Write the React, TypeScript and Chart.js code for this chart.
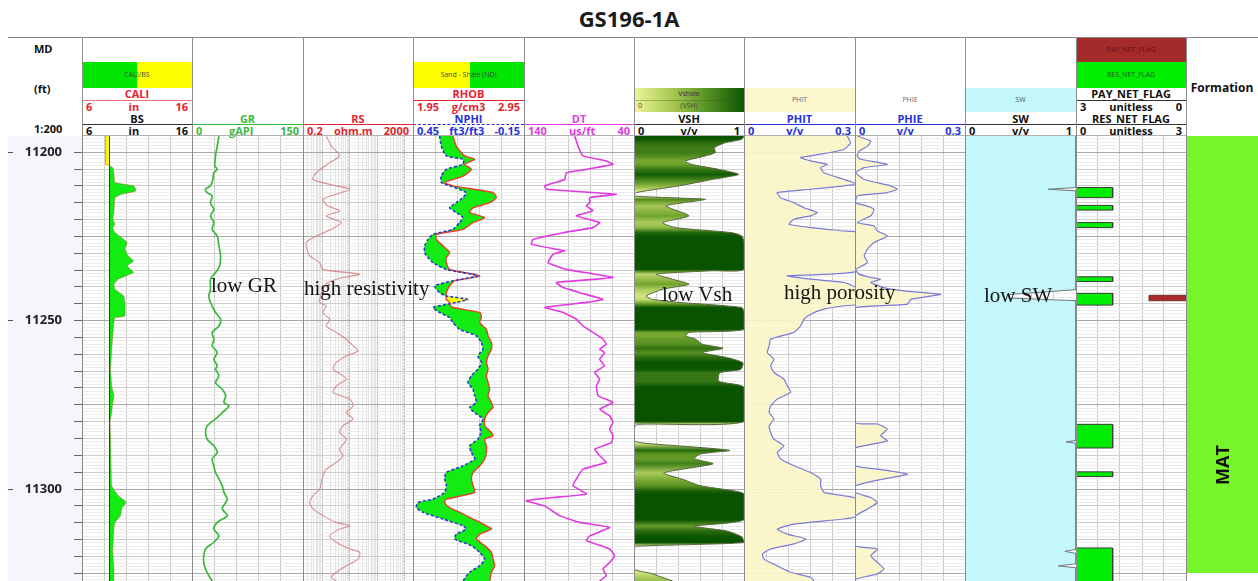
import React, { useEffect, useRef } from 'react';
import { Chart, registerables } from 'chart.js';

Chart.register(...registerables);

const FONT = "'Open Sans', 'DejaVu Sans', sans-serif";
Chart.defaults.font.family = FONT;

// ---------------- depth frame ----------------
const DEPTH_MIN = 11195.2;
const DEPTH_MAX = 11327.3;
const DEPTH_LABELS = [11200, 11250, 11300];

// ---------------- CALI / BS (in) ----------------
const caliDepth = [11195.2, 11203.6, 11204.1, 11204.6, 11206.1, 11209.0, 11210.0, 11211.5, 11212.5, 11213.5, 11215.0, 11217.9, 11219.9, 11221.4, 11222.4, 11223.9, 11225.4, 11226.8, 11228.8, 11230.8, 11232.3, 11233.8, 11235.7, 11237.7, 11239.2, 11240.7, 11242.7, 11244.6, 11248.6, 11249.1, 11250.6, 11254.5, 11258.5, 11264.4, 11269.4, 11272.3, 11274.3, 11277.3, 11280.2, 11284.2, 11294.1, 11299.0, 11302.0, 11303.5, 11304.0, 11305.9, 11307.9, 11309.9, 11311.9, 11318.8, 11323.7, 11327.3];
const caliValue = [8.15, 8.15, 8.5, 8.8, 8.9, 9.0, 10.7, 10.9, 9.6, 9.0, 8.95, 8.9, 8.8, 9.0, 8.8, 9.0, 9.6, 10.1, 9.9, 10.2, 10.7, 10.1, 10.7, 9.3, 8.9, 9.0, 9.8, 9.9, 9.9, 9.0, 8.9, 8.8, 8.7, 8.6, 8.7, 8.9, 8.8, 8.7, 8.55, 8.6, 8.65, 8.7, 9.3, 9.9, 10.0, 9.6, 9.5, 9.0, 8.9, 8.8, 8.9, 8.9];
const bsDepth = [11190, 11330];
const bsValue = [8.5, 8.5];

// ---------------- GR (gAPI) ----------------
const grDepth = [11195.2, 11198.2, 11201.1, 11204.1, 11205.1, 11206.1, 11208.1, 11210.0, 11211.0, 11212.0, 11213.0, 11215.0, 11217.0, 11218.9, 11220.9, 11222.9, 11224.9, 11227.8, 11230.8, 11233.8, 11235.7, 11237.7, 11240.7, 11242.7, 11244.6, 11247.6, 11249.6, 11251.6, 11253.5, 11255.5, 11257.5, 11259.5, 11261.5, 11263.4, 11264.4, 11266.4, 11268.4, 11270.4, 11272.3, 11274.3, 11275.3, 11277.3, 11279.2, 11281.2, 11283.2, 11285.2, 11287.2, 11289.1, 11291.1, 11293.1, 11295.1, 11297.0, 11299.0, 11301.0, 11303.0, 11304.0, 11305.9, 11307.9, 11309.9, 11311.9, 11313.9, 11315.8, 11317.8, 11319.8, 11321.8, 11323.7, 11325.7, 11327.3];
const grValue = [36.4, 34.1, 31.8, 30.9, 34.1, 29.5, 28.2, 25.0, 18.2, 20.5, 27.3, 25.0, 29.5, 25.0, 29.5, 27.3, 34.1, 36.4, 38.6, 37.3, 31.8, 25.0, 25.0, 22.7, 25.0, 31.8, 38.6, 36.4, 27.3, 29.5, 27.3, 34.1, 29.5, 34.1, 31.8, 36.4, 31.8, 40.9, 45.5, 43.2, 50.0, 40.9, 31.8, 20.5, 18.2, 20.5, 29.5, 34.1, 27.3, 29.5, 31.8, 36.4, 40.9, 43.2, 47.7, 45.5, 40.9, 47.7, 34.1, 29.5, 36.4, 29.5, 18.2, 15.9, 15.9, 18.2, 22.7, 27.3];

// ---------------- RS (ohm.m) ----------------
const rsDepth = [11195.2, 11198.2, 11201.1, 11203.1, 11206.1, 11208.1, 11210.0, 11211.0, 11212.5, 11214.0, 11216.0, 11217.4, 11218.9, 11220.9, 11222.9, 11224.9, 11226.8, 11228.8, 11230.8, 11232.8, 11234.8, 11236.2, 11237.2, 11238.7, 11240.7, 11244.6, 11245.6, 11247.6, 11249.6, 11251.6, 11253.5, 11255.5, 11257.5, 11259.0, 11260.5, 11262.4, 11264.4, 11266.4, 11267.4, 11269.4, 11271.3, 11273.3, 11275.3, 11277.3, 11279.2, 11281.2, 11283.2, 11285.2, 11288.2, 11290.1, 11292.1, 11294.1, 11296.1, 11298.0, 11300.0, 11302.0, 11304.0, 11305.9, 11307.9, 11309.9, 11310.9, 11311.9, 11313.9, 11315.8, 11317.8, 11318.8, 11320.8, 11322.8, 11324.7, 11326.2, 11327.3];
const rsValue = [1.41, 2.14, 4.3, 1.87, 0.61, 0.46, 3.25, 10, 3.25, 1.07, 1.62, 4.3, 1.41, 4.95, 2.14, 0.61, 0.26, 0.28, 0.35, 0.81, 1.07, 23, 5.7, 1.62, 1.07, 0.81, 1.41, 1.07, 1.87, 1.41, 3.25, 7.5, 13.2, 20, 7.5, 3.25, 2.47, 5.7, 7.5, 3.25, 2.47, 10, 13.2, 7.5, 13.2, 5.7, 4.3, 7.5, 4.3, 5.7, 3.25, 1.41, 1.07, 0.93, 0.81, 0.46, 0.35, 0.46, 1.07, 3.25, 10, 4.3, 1.87, 3.25, 10, 23, 20, 7.5, 3.25, 2.14, 3.25];

// ---------------- RHOB (g/cm3) / NPHI (ft3/ft3) ----------------
const ndDepth = [11195.2, 11198.2, 11201.1, 11202.1, 11203.6, 11205.1, 11207.1, 11209.0, 11210.0, 11212.0, 11213.5, 11215.0, 11216.5, 11217.9, 11219.4, 11220.9, 11222.9, 11224.4, 11225.9, 11227.8, 11229.8, 11231.3, 11232.8, 11234.8, 11236.7, 11238.2, 11239.7, 11241.7, 11242.7, 11243.7, 11244.6, 11245.1, 11246.1, 11247.6, 11249.1, 11250.6, 11252.6, 11254.5, 11256.5, 11258.5, 11260.5, 11262.4, 11264.4, 11266.4, 11268.4, 11270.4, 11272.3, 11274.3, 11275.8, 11277.3, 11279.2, 11281.2, 11283.2, 11284.2, 11285.2, 11287.2, 11289.1, 11291.1, 11293.1, 11295.1, 11297.0, 11299.0, 11301.0, 11303.0, 11304.0, 11305.5, 11306.9, 11308.9, 11310.9, 11311.9, 11313.4, 11314.8, 11316.8, 11318.8, 11320.8, 11322.8, 11324.7, 11327.3];
const rhobValue = [2.310, 2.340, 2.415, 2.506, 2.415, 2.476, 2.400, 2.235, 2.310, 2.671, 2.701, 2.641, 2.491, 2.461, 2.596, 2.491, 2.400, 2.160, 2.160, 2.220, 2.280, 2.250, 2.250, 2.280, 2.551, 2.325, 2.280, 2.250, 2.250, 2.250, 2.280, 2.280, 2.310, 2.551, 2.566, 2.551, 2.611, 2.626, 2.656, 2.656, 2.626, 2.611, 2.626, 2.611, 2.626, 2.641, 2.626, 2.656, 2.671, 2.626, 2.596, 2.596, 2.656, 2.671, 2.596, 2.611, 2.611, 2.596, 2.551, 2.491, 2.476, 2.491, 2.506, 2.250, 2.235, 2.280, 2.370, 2.491, 2.611, 2.656, 2.551, 2.521, 2.596, 2.656, 2.671, 2.686, 2.656, 2.641];
const nphiValue = [0.306, 0.297, 0.270, 0.180, 0.180, 0.270, 0.297, 0.297, 0.252, 0.162, 0.180, 0.216, 0.252, 0.216, 0.180, 0.198, 0.234, 0.342, 0.369, 0.387, 0.387, 0.369, 0.342, 0.270, 0.099, 0.234, 0.333, 0.306, 0.270, 0.155, 0.216, 0.261, 0.342, 0.306, 0.252, 0.234, 0.198, 0.108, 0.081, 0.072, 0.099, 0.081, 0.099, 0.135, 0.153, 0.126, 0.117, 0.108, 0.144, 0.117, 0.072, 0.090, 0.081, 0.090, 0.099, 0.144, 0.135, 0.117, 0.180, 0.270, 0.279, 0.270, 0.279, 0.342, 0.423, 0.432, 0.396, 0.288, 0.180, 0.162, 0.216, 0.225, 0.135, 0.090, 0.063, 0.090, 0.144, 0.180];

// ---------------- DT (us/ft) ----------------
const dtDepth = [11195.2, 11198.2, 11201.1, 11202.6, 11203.6, 11205.1, 11206.1, 11208.1, 11210.0, 11211.0, 11212.5, 11213.5, 11215.0, 11216.0, 11217.4, 11218.9, 11220.9, 11222.4, 11223.9, 11225.9, 11227.3, 11228.8, 11229.3, 11230.3, 11232.8, 11234.8, 11237.2, 11238.7, 11240.2, 11241.7, 11243.7, 11244.6, 11246.1, 11247.6, 11249.6, 11251.6, 11253.5, 11255.5, 11257.0, 11258.5, 11259.5, 11261.5, 11263.4, 11265.4, 11267.4, 11269.4, 11272.3, 11274.3, 11276.3, 11278.3, 11280.2, 11282.2, 11284.2, 11286.2, 11288.2, 11290.1, 11292.1, 11294.1, 11297.0, 11299.0, 11301.5, 11302.5, 11303.5, 11305.0, 11307.9, 11309.9, 11311.4, 11313.9, 11315.3, 11317.8, 11319.8, 11321.8, 11323.7, 11325.7, 11327.3];
const dtValue = [93.9, 90.9, 86.4, 65.2, 59.1, 83.3, 101.5, 103.0, 121.2, 119.7, 56.1, 80.3, 80.3, 83.3, 77.3, 92.4, 71.2, 77.3, 104.5, 131.8, 133.3, 110.6, 103.0, 113.6, 118.2, 101.5, 59.1, 110.6, 104.5, 89.4, 68.2, 83.3, 121.2, 104.5, 92.4, 86.4, 77.3, 68.2, 65.2, 71.2, 66.7, 71.2, 66.7, 75.8, 71.2, 74.2, 72.7, 59.1, 71.2, 62.1, 59.1, 62.1, 59.1, 60.6, 75.8, 71.2, 65.2, 86.4, 92.4, 95.5, 83.3, 113.6, 137.9, 121.2, 107.6, 89.4, 62.1, 80.3, 83.3, 62.1, 57.6, 62.1, 68.2, 65.2, 71.2];

// ---------------- VSH (v/v) ----------------
const vshDepth = [11195.2, 11196.2, 11197.2, 11198.7, 11200.1, 11201.1, 11202.6, 11203.6, 11205.1, 11206.6, 11208.1, 11210.0, 11212.0, 11213.0, 11213.6, 11214.0, 11215.0, 11216.0, 11218.9, 11220.9, 11222.4, 11223.9, 11224.9, 11226.8, 11234.8, 11235.2, 11236.2, 11237.7, 11239.2, 11240.7, 11242.7, 11243.7, 11244.6, 11246.1, 11247.6, 11252.6, 11253.5, 11254.5, 11255.5, 11257.0, 11258.2, 11259.5, 11261.0, 11262.5, 11264.5, 11265.5, 11268.0, 11269.8, 11280.0, 11280.8, 11282.2, 11285.6, 11286.4, 11288.5, 11289.6, 11291.0, 11292.5, 11295.2, 11297.2, 11299.0, 11300.5, 11301.5, 11309.1, 11311.0, 11312.5, 11314.2, 11315.9, 11317.0, 11318.0, 11323.7, 11325.0, 11327.3];
const vshValue = [1.0, 0.98, 0.83, 0.73, 0.74, 0.65, 0.47, 0.52, 0.77, 0.95, 0.71, 0.41, 0.02, 0.0, 0.4, 0.65, 0.45, 0.29, 0.5, 0.26, 0.38, 0.89, 0.98, 1.0, 1.0, 0.71, 0.2, 0.35, 0.5, 0.26, 0.11, 0.17, 0.41, 0.98, 1.0, 1.0, 0.5, 0.47, 0.56, 0.62, 0.81, 0.62, 0.85, 0.99, 0.97, 0.78, 0.77, 1.0, 1.0, 0.03, 0.0, 0.0, 0.1, 0.87, 0.6, 0.55, 0.72, 0.27, 0.45, 0.6, 0.9, 1.0, 1.0, 0.55, 0.85, 0.98, 1.0, 0.02, 0.0, 0.0, 0.15, 0.35];

// ---------------- PHIT (v/v) ----------------
const phitDepth = [11195.2, 11197.2, 11199.2, 11200.6, 11201.6, 11202.6, 11203.6, 11204.6, 11206.1, 11208.1, 11209.5, 11210.0, 11211.0, 11212.0, 11213.5, 11215.0, 11216.5, 11217.9, 11218.9, 11219.9, 11221.4, 11222.4, 11223.4, 11223.9, 11235.2, 11236.7, 11237.7, 11238.7, 11240.7, 11245.1, 11245.6, 11246.6, 11248.1, 11249.6, 11251.6, 11253.5, 11255.5, 11257.5, 11259.5, 11261.5, 11263.4, 11265.4, 11267.4, 11269.4, 11271.3, 11273.3, 11275.3, 11277.3, 11279.2, 11281.2, 11283.2, 11285.2, 11287.2, 11289.1, 11291.1, 11293.1, 11295.1, 11297.0, 11299.0, 11301.0, 11302.0, 11303.0, 11307.9, 11308.9, 11310.4, 11311.9, 11313.4, 11314.8, 11316.3, 11317.8, 11319.3, 11320.8, 11322.8, 11324.7, 11326.2, 11327.3];
const phitValue = [0.279, 0.288, 0.27, 0.207, 0.153, 0.18, 0.225, 0.207, 0.216, 0.27, 0.305, 0.27, 0.18, 0.09, 0.099, 0.135, 0.162, 0.198, 0.18, 0.135, 0.122, 0.18, 0.27, 0.31, 0.31, 0.117, 0.18, 0.27, 0.31, 0.31, 0.27, 0.216, 0.18, 0.162, 0.153, 0.135, 0.072, 0.068, 0.063, 0.081, 0.072, 0.081, 0.108, 0.117, 0.126, 0.09, 0.072, 0.068, 0.081, 0.068, 0.072, 0.081, 0.108, 0.09, 0.099, 0.135, 0.18, 0.207, 0.207, 0.216, 0.27, 0.31, 0.31, 0.27, 0.135, 0.09, 0.117, 0.167, 0.135, 0.072, 0.05, 0.054, 0.09, 0.126, 0.18, 0.189];

// ---------------- PHIE (v/v) ----------------
const phieDepth = [11195.2, 11196.7, 11198.2, 11199.7, 11201.1, 11202.1, 11203.6, 11204.6, 11206.1, 11208.1, 11210.0, 11211.0, 11212.0, 11213.0, 11215.0, 11216.0, 11217.0, 11218.9, 11220.9, 11221.9, 11223.4, 11224.9, 11226.8, 11228.8, 11230.8, 11232.8, 11234.8, 11236.2, 11237.2, 11237.7, 11238.7, 11240.2, 11241.2, 11242.2, 11243.7, 11245.1, 11246.1, 11247.6, 11280.2, 11280.7, 11282.2, 11284.2, 11285.7, 11287.7, 11289.1, 11293.1, 11294.1, 11295.6, 11297.0, 11299.0, 11301.0, 11302.5, 11304.0, 11305.9, 11307.9, 11308.9, 11316.8, 11317.8, 11319.8, 11321.8, 11323.7, 11325.2, 11326.7, 11327.3];
const phieValue = [0.006, 0.043, 0.034, 0.011, 0.006, 0.015, 0.088, 0.025, 0.002, 0.025, 0.097, 0.115, 0.088, 0.006, 0.002, 0.034, 0.052, 0.043, 0.006, 0.052, 0.061, 0.088, 0.052, 0.034, 0.025, 0.034, 0.002, 0.011, 0.043, 0.07, 0.043, 0.079, 0.134, 0.234, 0.152, 0.143, 0.002, 0.0, 0.0, 0.061, 0.088, 0.07, 0.088, 0.002, 0.0, 0.0, 0.061, 0.143, 0.079, 0.002, 0.0, 0.043, 0.061, 0.034, 0.002, 0.0, 0.0, 0.061, 0.043, 0.061, 0.079, 0.061, 0.002, 0.0];

// ---------------- SW (v/v) ----------------
const swDepth = [11195.2, 11210.5, 11211.0, 11211.5, 11240.8, 11242.3, 11243.3, 11244.1, 11285.6, 11286.0, 11286.4, 11317.9, 11318.5, 11319.1, 11322.2, 11322.8, 11323.4, 11327.3];
const swValue = [1, 1, 0.75, 1, 1, 0.38, 0.4, 1, 1, 0.91, 1, 1, 0.9, 1, 1, 0.84, 1, 1];

// ---------------- flags (unitless) ----------------
const resTop = [11210.5, 11215.8, 11220.9, 11237.0, 11241.9, 11280.8, 11294.9, 11317.5];
const resBase = [11213.5, 11217.2, 11222.4, 11238.4, 11245.4, 11287.8, 11296.3, 11330.0];
const resFlag = [1, 1, 1, 1, 1, 1, 1, 1];
const payTop = [11242.5];
const payBase = [11244.1];
const payFlag = [1];

// ---------------- formation ----------------
const formationName = ['MAT'];
const formationTop = [11190];
const formationBase = [11340];

// ---------------- layout ----------------
const PLOT_TOP = 136;
const PLOT_BOTTOM = 581;
const PLOT_H = PLOT_BOTTOM - PLOT_TOP;
const EDGES = [82, 192, 303, 413, 524, 634, 744, 855, 965, 1076, 1186, 1258];
const tw = (i: number) => EDGES[i + 1] - EDGES[i];

const RED = '#e4232e';
const GRN = '#3cb83c';
const BLUE = '#2430d8';
const MAG = '#e03ae0';
const BLK = '#111111';

const pts = (d: number[], v: number[]) => d.map((y, i) => ({ x: v[i], y }));

function flagPoints(tops: number[], bases: number[], vals: number[]) {
  const out: { x: number; y: number }[] = [];
  tops.forEach((t, i) => {
    out.push({ x: 0, y: t }, { x: vals[i], y: t }, { x: vals[i], y: bases[i] }, { x: 0, y: bases[i] });
  });
  return out;
}

const gridTicks: number[] = [];
for (let d = Math.ceil(DEPTH_MIN); d <= Math.floor(DEPTH_MAX); d++) gridTicks.push(d);
const depthTicks5: number[] = [];
for (let d = Math.ceil(DEPTH_MIN / 5) * 5; d <= DEPTH_MAX; d += 5) depthTicks5.push(d);

const logGrid: number[] = [];
for (let e = -1; e <= 3; e++) {
  for (let m = 1; m <= 9; m++) {
    const v = +(m * Math.pow(10, e)).toPrecision(6);
    if (v > 0.2 + 1e-9 && v < 2000 - 1e-9) logGrid.push(v);
  }
}
const isDecade = (v: number) => Math.abs(Math.log10(v) - Math.round(Math.log10(v))) < 1e-6;

function yScale(showGrid = true) {
  return {
    type: 'linear',
    reverse: true,
    min: DEPTH_MIN,
    max: DEPTH_MAX,
    afterBuildTicks: (ax: any) => {
      ax.ticks = gridTicks.map((value) => ({ value }));
    },
    ticks: { display: false },
    grid: {
      display: showGrid,
      drawTicks: false,
      lineWidth: 1,
      color: (c: any) => {
        const v = c.tick ? c.tick.value : 1;
        return v % 25 === 0 ? '#a8a8a8' : v % 5 === 0 ? '#cdcdcd' : '#ececec';
      },
    },
    border: { display: false },
  };
}

function xLin(min: number, max: number, extra: any = {}) {
  return {
    type: 'linear',
    min,
    max,
    position: 'bottom',
    afterBuildTicks: (ax: any) => {
      const t = [];
      for (let i = 1; i < 5; i++) t.push({ value: min + ((max - min) * i) / 5 });
      ax.ticks = t;
    },
    ticks: { display: false },
    grid: { drawTicks: false, color: '#c6c6c6', lineWidth: 1 },
    border: { display: false },
    ...extra,
  };
}

function xHidden(min: number, max: number, reverse = false) {
  return { type: 'linear', axis: 'x', min, max, reverse, display: false, position: 'top' };
}

function baseOptions(scales: any) {
  return {
    animation: false,
    responsive: false,
    maintainAspectRatio: false,
    indexAxis: 'y',
    events: [],
    layout: { padding: 0 },
    plugins: {
      legend: { display: false },
      tooltip: { enabled: false },
      filler: { drawTime: 'beforeDatasetsDraw', propagate: false },
    },
    elements: { point: { radius: 0, hoverRadius: 0 }, line: { tension: 0, borderJoinStyle: 'round' } },
    scales,
  };
}

function lerp(a: number[], b: number[], t: number) {
  return a.map((v, i) => Math.round(v + (b[i] - v) * t));
}
function vshColor(v: number) {
  const c0 = [238, 246, 150];
  const c1 = [112, 164, 44];
  const c2 = [8, 82, 0];
  const c = v <= 0.5 ? lerp(c0, c1, v / 0.5) : lerp(c1, c2, (v - 0.5) / 0.5);
  return `rgb(${c[0]},${c[1]},${c[2]})`;
}

const noPad = (s: any) => {
  s.paddingTop = 0;
  s.paddingBottom = 0;
};

// ---------------- chart configs ----------------
const makeDepth = () => ({
  type: 'line',
  data: { datasets: [] },
  options: baseOptions({
    x: { type: 'linear', display: false, min: 0, max: 1 },
    y: {
      type: 'linear',
      position: 'left',
      reverse: true,
      min: DEPTH_MIN,
      max: DEPTH_MAX,
      weight: 0,
      afterBuildTicks: (ax: any) => {
        ax.ticks = depthTicks5.map((value) => ({ value }));
      },
      afterFit: (s: any) => {
        s.width = 69;
        noPad(s);
      },
      ticks: {
        autoSkip: false,
        padding: 12,
        color: '#222',
        font: { family: FONT, size: 13, weight: 'bold' },
        callback: (v: any) => (DEPTH_LABELS.includes(Number(v)) ? String(v) : ''),
      },
      grid: { drawOnChartArea: false, drawTicks: true, tickLength: 8, color: '#666' },
      border: { display: false },
    },
    y2: {
      type: 'linear',
      axis: 'y',
      position: 'left',
      reverse: true,
      min: DEPTH_MIN,
      max: DEPTH_MAX,
      weight: 1,
      afterBuildTicks: (ax: any) => {
        ax.ticks = DEPTH_LABELS.map((value) => ({ value }));
      },
      afterFit: (s: any) => {
        s.width = 5;
        noPad(s);
      },
      ticks: { display: false },
      grid: { drawOnChartArea: false, drawTicks: true, tickLength: 5, color: '#555' },
      border: { display: false },
    },
  }),
});

const makeCali = () => {
  const bs = bsValue[0];
  const split = caliValue.findIndex((v) => v >= bs);
  return {
    type: 'line',
    data: {
      datasets: [
        {
          data: pts(caliDepth.slice(0, split + 1), caliValue.slice(0, split + 1)),
          fill: { value: bs },
          backgroundColor: '#ffff00',
          borderColor: '#d8c800',
          borderWidth: 1,
        },
        {
          data: pts(caliDepth.slice(split), caliValue.slice(split)),
          fill: { value: bs },
          backgroundColor: '#12ec12',
          borderColor: 'rgba(170,80,40,0.7)',
          borderWidth: 0.6,
          tension: 0.1,
        },
        { data: pts(bsDepth, bsValue), fill: false, borderColor: '#3a3a3a', borderWidth: 1 },
      ],
    },
    options: baseOptions({ x: xLin(6, 16), y: yScale() }),
  };
};

const makeGR = () => ({
  type: 'line',
  data: {
    datasets: [{ data: pts(grDepth, grValue), fill: false, borderColor: GRN, borderWidth: 1.7, tension: 0.3 }],
  },
  options: baseOptions({ x: xLin(0, 150), y: yScale() }),
});

const makeRS = () => ({
  type: 'line',
  data: {
    datasets: [
      { data: pts(rsDepth, rsValue), fill: false, borderColor: 'rgba(212,125,125,0.85)', borderWidth: 1.1, tension: 0.25 },
    ],
  },
  options: baseOptions({
    x: {
      type: 'logarithmic',
      min: 0.2,
      max: 2000,
      position: 'bottom',
      afterBuildTicks: (ax: any) => {
        ax.ticks = logGrid.map((value) => ({ value }));
      },
      ticks: { display: false },
      grid: {
        drawTicks: false,
        lineWidth: 1,
        color: (c: any) => (c.tick && isDecade(c.tick.value) ? '#bcbcbc' : '#e3e3e3'),
      },
      border: { display: false },
    },
    y: yScale(),
  }),
});

const makeND = () => {
  const posR = (v: number) => (v - 1.95) / 1.0;
  const posN = (v: number) => (0.45 - v) / 0.6;
  const cross = ndDepth.map((_, i) => i).filter((i) => posN(nphiValue[i]) > posR(rhobValue[i]));
  const lo = Math.max(0, Math.min(...cross) - 1);
  const hi = Math.min(ndDepth.length - 1, Math.max(...cross) + 1);
  return {
    type: 'line',
    data: {
      datasets: [
        {
          data: pts(ndDepth.slice(lo, hi + 1), nphiValue.slice(lo, hi + 1)),
          xAxisID: 'x2',
          fill: 1,
          backgroundColor: '#ffff00',
          borderColor: 'rgba(0,0,0,0)',
          borderWidth: 0,
          tension: 0.2,
        },
        {
          data: pts(ndDepth.slice(lo, hi + 1), rhobValue.slice(lo, hi + 1)),
          xAxisID: 'x',
          fill: false,
          borderColor: 'rgba(0,0,0,0)',
          borderWidth: 0,
          tension: 0.2,
        },
        {
          data: pts(ndDepth, nphiValue),
          xAxisID: 'x2',
          fill: 3,
          backgroundColor: '#12ec12',
          borderColor: '#2a3ad0',
          borderWidth: 1.6,
          borderDash: [3, 2],
          tension: 0.2,
        },
        {
          data: pts(ndDepth, rhobValue),
          xAxisID: 'x',
          fill: false,
          borderColor: '#e8402a',
          borderWidth: 1.4,
          tension: 0.2,
        },
      ],
    },
    options: baseOptions({ x: xLin(1.95, 2.95), x2: xHidden(-0.15, 0.45, true), y: yScale() }),
  };
};

const makeDT = () => ({
  type: 'line',
  data: {
    datasets: [{ data: pts(dtDepth, dtValue), fill: false, borderColor: MAG, borderWidth: 1.6, tension: 0.1 }],
  },
  options: baseOptions({ x: xLin(40, 140, { reverse: true }), y: yScale() }),
});

const makeVSH = () => ({
  type: 'line',
  data: {
    datasets: [
      {
        data: pts(vshDepth, vshValue),
        fill: 'origin',
        borderColor: '#56663e',
        borderWidth: 1,
        tension: 0.2,
        backgroundColor: (ctx: any) => {
          const chart = ctx.chart;
          const area = chart.chartArea;
          const ys = chart.scales && chart.scales.y;
          if (!area || !ys) return '#0b5a00';
          const g = chart.ctx.createLinearGradient(0, area.top, 0, area.bottom);
          vshDepth.forEach((d, i) => {
            const p = (ys.getPixelForValue(d) - area.top) / (area.bottom - area.top);
            if (p >= 0 && p <= 1) g.addColorStop(p, vshColor(vshValue[i]));
          });
          return g;
        },
      },
    ],
  },
  options: baseOptions({ x: xLin(0, 1), y: yScale() }),
});

const makePor = (depth: number[], value: number[]) => () => ({
  type: 'line',
  data: {
    datasets: [
      {
        data: pts(depth, value),
        fill: 'origin',
        backgroundColor: 'rgba(252,245,198,0.9)',
        borderColor: '#7a7ad8',
        borderWidth: 1.2,
        tension: 0.15,
      },
    ],
  },
  options: baseOptions({ x: xLin(0, 0.3), y: yScale() }),
});

const makeSW = () => ({
  type: 'line',
  data: {
    datasets: [
      { data: pts(swDepth, swValue), fill: 'origin', backgroundColor: '#c3f7fb', borderColor: '#6c7a7e', borderWidth: 1 },
    ],
  },
  options: baseOptions({ x: xLin(0, 1), y: yScale() }),
});

const makeFlags = () => ({
  type: 'line',
  data: {
    datasets: [
      {
        data: flagPoints(payTop, payBase, payFlag),
        xAxisID: 'x2',
        fill: 'origin',
        backgroundColor: '#a82a2a',
        borderColor: '#7a2424',
        borderWidth: 1,
      },
      {
        data: flagPoints(resTop, resBase, resFlag),
        xAxisID: 'x',
        fill: 'origin',
        backgroundColor: '#00ec00',
        borderColor: '#3c3c3c',
        borderWidth: 1,
      },
    ],
  },
  options: baseOptions({ x: xLin(0, 3), x2: xHidden(0, 3, true), y: yScale() }),
});

const makeFormation = () => ({
  type: 'line',
  data: {
    datasets: formationName.map((_, i) => ({
      data: [
        { x: 1, y: formationTop[i] },
        { x: 1, y: formationBase[i] },
      ],
      fill: 'origin',
      backgroundColor: '#77f52b',
      borderColor: 'rgba(0,0,0,0)',
      borderWidth: 0,
    })),
  },
  options: baseOptions({ x: { ...xLin(0, 1), grid: { display: false } }, y: yScale(false) }),
});

// ---------------- components ----------------
function ChartBox({ left, width, make }: { left: number; width: number; make: () => any }) {
  const ref = useRef<HTMLCanvasElement | null>(null);
  useEffect(() => {
    if (!ref.current) return;
    const chart = new Chart(ref.current, make() as any);
    return () => {
      chart.destroy();
    };
  }, []);
  return (
    <div style={{ position: 'absolute', left, top: PLOT_TOP, width, height: PLOT_H }}>
      <canvas ref={ref} width={width} height={PLOT_H} style={{ display: 'block', width, height: PLOT_H }} />
    </div>
  );
}

const abs = (l: number, t: number, w: number, h: number, extra: any = {}) => ({
  position: 'absolute' as const,
  left: l,
  top: t,
  width: w,
  height: h,
  ...extra,
});

function Label({ i, top, text, color }: { i: number; top: number; text: string; color: string }) {
  return (
    <div style={abs(EDGES[i], top, tw(i), 12, { lineHeight: '12px', textAlign: 'center', fontSize: 11, fontWeight: 700, color, whiteSpace: 'nowrap' })}>
      {text}
    </div>
  );
}
function ScaleRow({ i, top, parts, color }: { i: number; top: number; parts: string[]; color: string }) {
  return (
    <div
      style={abs(EDGES[i], top, tw(i), 12, {
        lineHeight: '12px',
        fontSize: 11,
        fontWeight: 700,
        color,
        display: 'flex',
        justifyContent: 'space-between',
        padding: '0 4px',
        boxSizing: 'border-box',
        whiteSpace: 'nowrap',
      })}
    >
      <span>{parts[0]}</span>
      <span>{parts[1]}</span>
      <span>{parts[2]}</span>
    </div>
  );
}
function Rule({ i, top, color, dashed }: { i: number; top: number; color: string; dashed?: boolean }) {
  return <div style={abs(EDGES[i], top, tw(i), 0, { borderTop: `1px ${dashed ? 'dashed' : 'solid'} ${color}` })} />;
}
function Tiny({ l, t, w, h, text, color = '#444', bg }: any) {
  return (
    <div style={abs(l, t, w, h, { background: bg, fontSize: 7, color, textAlign: 'center', lineHeight: `${h}px`, whiteSpace: 'nowrap', overflow: 'hidden' })}>
      {text}
    </div>
  );
}

function Header() {
  const L1 = 88;
  const R1 = 100;
  const S1 = 101;
  const L2 = 113;
  const R2 = 124;
  const S2 = 125;
  return (
    <>
      {/* MD column */}
      <div style={abs(34, 43, 45, 12, { fontSize: 11, fontWeight: 700, lineHeight: '12px', color: BLK })}>MD</div>
      <div style={abs(34, 83, 45, 12, { fontSize: 11, fontWeight: 700, lineHeight: '12px', color: BLK })}>(ft)</div>
      <div style={abs(34, 123, 45, 12, { fontSize: 11, fontWeight: 700, lineHeight: '12px', color: BLK })}>1:200</div>

      {/* CALI / BS */}
      <div style={abs(82, 62, 55, 26, { background: '#00e600' })} />
      <div style={abs(137, 62, 55, 26, { background: '#ffff00' })} />
      <Tiny l={82} t={62} w={110} h={26} text="CALI/BS" />
      <Label i={0} top={L1} text="CALI" color={RED} />
      <Rule i={0} top={R1} color="#e87878" />
      <ScaleRow i={0} top={S1} parts={['6', 'in', '16']} color={RED} />
      <Label i={0} top={L2} text="BS" color={BLK} />
      <Rule i={0} top={R2} color="#333" />
      <ScaleRow i={0} top={S2} parts={['6', 'in', '16']} color={BLK} />

      {/* GR */}
      <Label i={1} top={L2} text="GR" color={GRN} />
      <Rule i={1} top={R2} color={GRN} />
      <ScaleRow i={1} top={S2} parts={['0', 'gAPI', '150']} color={GRN} />

      {/* RS */}
      <Label i={2} top={L2} text="RS" color={RED} />
      <Rule i={2} top={R2} color={RED} />
      <ScaleRow i={2} top={S2} parts={['0.2', 'ohm.m', '2000']} color={RED} />

      {/* RHOB / NPHI */}
      <div style={abs(413, 62, 57, 26, { background: '#ffff00' })} />
      <div style={abs(470, 62, 54, 26, { background: '#00e600' })} />
      <Tiny l={413} t={62} w={111} h={26} text="Sand - Shale (ND)" />
      <Label i={3} top={L1} text="RHOB" color={RED} />
      <Rule i={3} top={R1} color={RED} />
      <ScaleRow i={3} top={S1} parts={['1.95', 'g/cm3', '2.95']} color={RED} />
      <Label i={3} top={L2} text="NPHI" color={BLUE} />
      <Rule i={3} top={R2} color={BLUE} dashed />
      <ScaleRow i={3} top={S2} parts={['0.45', 'ft3/ft3', '-0.15']} color={BLUE} />

      {/* DT */}
      <Label i={4} top={L2} text="DT" color={MAG} />
      <Rule i={4} top={R2} color={MAG} />
      <ScaleRow i={4} top={S2} parts={['140', 'us/ft', '40']} color={MAG} />

      {/* VSH */}
      <div style={abs(634, 88, 110, 24, { background: 'linear-gradient(to right, #eef59a 0%, #a8c850 35%, #5a9428 65%, #0b5600 100%)' })} />
      <div style={abs(634, 100, 110, 0, { borderTop: '1px solid rgba(60,80,20,0.35)' })} />
      <Tiny l={634} t={88} w={110} h={12} text="Vshale" color="#334" />
      <div style={abs(634, 100, 110, 12, { display: 'flex', justifyContent: 'space-between', padding: '0 4px', boxSizing: 'border-box', fontSize: 7, lineHeight: '12px', color: '#444' })}>
        <span>0</span>
        <span>(VSH)</span>
        <span>1</span>
      </div>
      <Label i={5} top={L2} text="VSH" color={BLK} />
      <Rule i={5} top={R2} color="#333" />
      <ScaleRow i={5} top={S2} parts={['0', 'v/v', '1']} color={BLK} />

      {/* PHIT */}
      <Tiny l={744} t={88} w={111} h={24} text="PHIT" bg="#fcf6cc" color="#666" />
      <Label i={6} top={L2} text="PHIT" color={BLUE} />
      <Rule i={6} top={R2} color={BLUE} />
      <ScaleRow i={6} top={S2} parts={['0', 'v/v', '0.3']} color={BLUE} />

      {/* PHIE */}
      <Tiny l={855} t={88} w={110} h={24} text="PHIE" color="#666" />
      <Label i={7} top={L2} text="PHIE" color={BLUE} />
      <Rule i={7} top={R2} color={BLUE} />
      <ScaleRow i={7} top={S2} parts={['0', 'v/v', '0.3']} color={BLUE} />

      {/* SW */}
      <Tiny l={965} t={88} w={111} h={24} text="SW" bg="#c3f7fb" color="#555" />
      <Label i={8} top={L2} text="SW" color={BLK} />
      <Rule i={8} top={R2} color="#333" />
      <ScaleRow i={8} top={S2} parts={['0', 'v/v', '1']} color={BLK} />

      {/* flags */}
      <Tiny l={1076} t={38} w={110} h={24} text="PAY_NET_FLAG" bg="#a52a2a" color="#5a1414" />
      <Tiny l={1076} t={62} w={110} h={26} text="RES_NET_FLAG" bg="#00ee00" color="#1d5a1d" />
      <Label i={9} top={L1} text="PAY_NET_FLAG" color={BLK} />
      <Rule i={9} top={R1} color="#333" />
      <ScaleRow i={9} top={S1} parts={['3', 'unitless', '0']} color={BLK} />
      <Label i={9} top={L2} text="RES_NET_FLAG" color={BLK} />
      <Rule i={9} top={R2} color="#333" />
      <ScaleRow i={9} top={S2} parts={['0', 'unitless', '3']} color={BLK} />

      {/* formation */}
      <div style={abs(1186, 81, 72, 14, { textAlign: 'center', fontSize: 12, fontWeight: 700, lineHeight: '14px', color: BLK })}>Formation</div>
    </>
  );
}

const NOTE = { fontFamily: "'Liberation Serif', 'DejaVu Serif', serif", fontSize: 21, lineHeight: '21px', color: '#141414', whiteSpace: 'nowrap' as const };

export default function App() {
  return (
    <div style={{ position: 'fixed', left: 0, top: 0, width: 1258, height: 581, background: '#ffffff', overflow: 'hidden', fontFamily: FONT }}>
      {/* title */}
      <div style={abs(0, 6, 1258, 26, { textAlign: 'center', fontSize: 22, fontWeight: 700, lineHeight: '24px', color: '#1a1a1a' })}>GS196-1A</div>
      {/* frame top line */}
      <div style={abs(8, 37, 1250, 0, { borderTop: '1px solid #8a8a8a' })} />
      {/* depth column background */}
      <div style={abs(8, PLOT_TOP, 74, PLOT_H, { background: '#f4f6fb' })} />

      <Header />

      {/* tracks */}
      <ChartBox left={EDGES[0]} width={tw(0)} make={makeCali} />
      <ChartBox left={EDGES[1]} width={tw(1)} make={makeGR} />
      <ChartBox left={EDGES[2]} width={tw(2)} make={makeRS} />
      <ChartBox left={EDGES[3]} width={tw(3)} make={makeND} />
      <ChartBox left={EDGES[4]} width={tw(4)} make={makeDT} />
      <ChartBox left={EDGES[5]} width={tw(5)} make={makeVSH} />
      <ChartBox left={EDGES[6]} width={tw(6)} make={makePor(phitDepth, phitValue)} />
      <ChartBox left={EDGES[7]} width={tw(7)} make={makePor(phieDepth, phieValue)} />
      <ChartBox left={EDGES[8]} width={tw(8)} make={makeSW} />
      <ChartBox left={EDGES[9]} width={tw(9)} make={makeFlags} />
      <ChartBox left={EDGES[10]} width={tw(10)} make={makeFormation} />
      <ChartBox left={8} width={76} make={makeDepth} />

      {/* header / plot separator */}
      <div style={abs(82, 135, 1104, 0, { borderTop: '1px solid #b0b0b0' })} />
      {/* track separators */}
      {EDGES.slice(0, 11).map((x) => (
        <div key={x} style={abs(x, 38, 0, 543, { borderLeft: '1px solid #8c8c8c' })} />
      ))}

      {/* annotations */}
      <div style={abs(211, 275, 80, 22, NOTE)}>low GR</div>
      <div style={abs(304, 278, 130, 22, NOTE)}>high resistivity</div>
      <div style={abs(662, 284, 80, 22, NOTE)}>low Vsh</div>
      <div style={abs(784, 282, 120, 22, NOTE)}>high porosity</div>
      <div style={abs(984, 285, 80, 22, NOTE)}>low SW</div>

      {/* formation name */}
      <div style={abs(1182, 454, 80, 22, { textAlign: 'center', fontSize: 18, fontWeight: 700, lineHeight: '22px', color: '#111', transform: 'rotate(-90deg)' })}>
        {formationName[0]}
      </div>
    </div>
  );
}
